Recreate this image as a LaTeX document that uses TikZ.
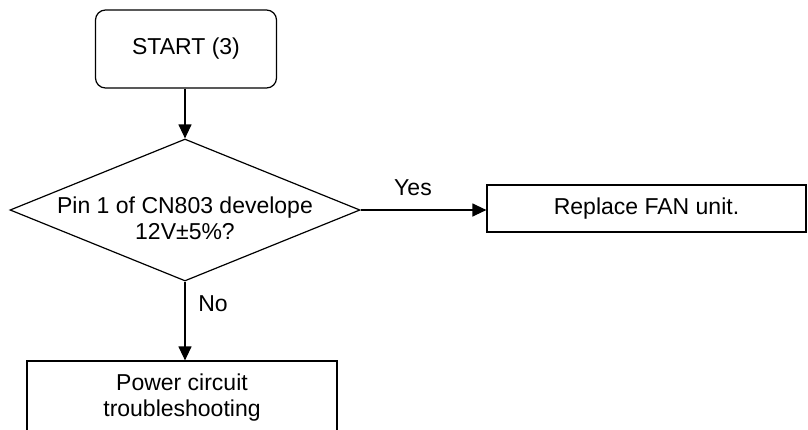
\documentclass[tikz,border=0pt]{standalone}
\usepackage{fontspec}
\setmainfont{Liberation Sans}
\usetikzlibrary{shapes.geometric,arrows.meta}
\begin{document}
\begin{tikzpicture}[x=1pt,y=-1pt,
  every node/.style={font=\fontsize{23}{26}\selectfont, inner sep=0pt},
  conn/.style={line width=1.2pt,-{Triangle[length=14pt,width=13pt]}},
  box/.style={draw,line width=1.2pt,align=center},
  lbl/.style={font=\fontsize{23}{26}\selectfont}]
\useasboundingbox (0,0) rectangle (808,429);
\clip (0,0) rectangle (808,429);
\node[box,rounded corners=10pt,minimum width=181pt,minimum height=78pt] (start) at (186,49) {START (3)};
\node[draw,line width=1.2pt,diamond,aspect=2.47,minimum width=350pt,minimum height=142pt,inner sep=0pt] (dec) at (185,210) {};
\node[align=center] (dectext) at (185,218) {Pin 1 of CN803 develope\\12V±5\%?};
\node[box,minimum width=319pt,minimum height=47pt] (fan) at (646.5,208.5) {Replace FAN unit.};
\node[box,minimum width=310pt,minimum height=74pt] (pwr) at (182,398) {Power circuit\\troubleshooting};
\draw[conn] (start.south -| dec.north) -- (dec.north);
\draw[conn] (dec.east) -- (fan.west |- dec.east);
\draw[conn] (dec.south) -- (pwr.north -| dec.south);
\node[lbl] (yes) at (413,188) {Yes};
\node[lbl] (no) at (213,304) {No};
\end{tikzpicture}
\end{document}
